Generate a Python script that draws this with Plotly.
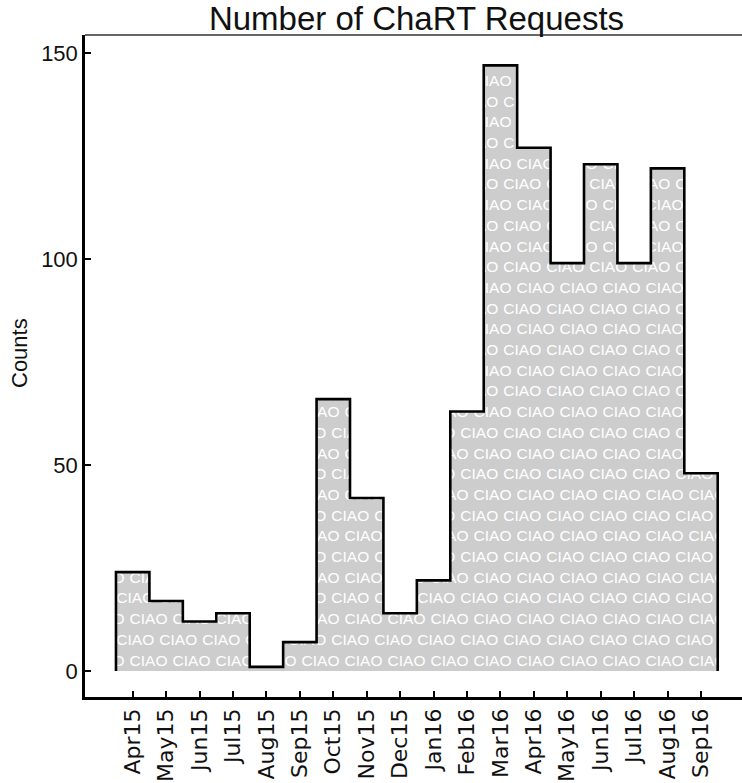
import numpy as np
import plotly.graph_objects as go

# Monthly request counts
months = ["Apr15", "May15", "Jun15", "Jul15", "Aug15", "Sep15", "Oct15", "Nov15", "Dec15",
          "Jan16", "Feb16", "Mar16", "Apr16", "May16", "Jun16", "Jul16", "Aug16", "Sep16"]
counts = [24, 17, 12, 14, 1, 7, 66, 42, 14, 22, 63, 147, 127, 99, 123, 99, 122, 48]
yticks = [0, 50, 100, 150]

idx = np.arange(len(months))
cnt = np.array(counts, dtype=float)

# Step outline built from bin edges (each month is a unit-wide bin)
step_x = [idx[0] - 0.5]
step_y = [0]
for i, c in zip(idx, counts):
    step_x += [i - 0.5, i + 0.5]
    step_y += [c, c]
step_x.append(idx[-1] + 0.5)
step_y.append(0)

# axis geometry (pixels per data unit and pixel origin of the first bin / zero count)
PX_X, X0_PX = 33.43, 132.7
PX_Y, Y0_PX = 4.12, 671.0
LEFT, TOP, BOTTOM = 85, 35, 697


def to_x(px):
    return (px - X0_PX) / PX_X


# "CIAO" texture: rows of white words, alternate rows shifted
ROW_GAP, WORD_GAP, HALF_W = 20.7, 43.0, 18.8
tex_x, tex_y = [], []
for k in range(32):
    yc = 2.26 + k * ROW_GAP / PX_Y
    first = 148.5 if k % 2 == 0 else 135.3
    for cx in np.arange(first - 2 * WORD_GAP, 742 + WORD_GAP, WORD_GAP):
        lo, hi = to_x(cx - HALF_W), to_x(cx + HALF_W)
        under = (idx + 0.5 > lo) & (idx - 0.5 < hi)
        if under.any() and cnt[under].max() > yc - 5.5 / PX_Y and cx - HALF_W > LEFT:
            tex_x.append(to_x(cx))
            tex_y.append(yc)

fig = go.Figure()

# grey histogram body
fig.add_trace(go.Scatter(
    x=step_x, y=step_y, mode="lines", line=dict(width=0),
    fill="tozeroy", fillcolor="#cdcdcd", hoverinfo="skip", showlegend=False))

fig.add_trace(go.Scatter(
    x=tex_x, y=tex_y, mode="text", text=["CIAO"] * len(tex_x),
    textposition="middle center",
    textfont=dict(family="Liberation Sans, Arial, sans-serif", size=15.5, color="white"),
    hoverinfo="skip", showlegend=False, cliponaxis=True))

# black step outline
fig.add_trace(go.Scatter(
    x=step_x, y=step_y, mode="lines", line=dict(color="black", width=2.6),
    hoverinfo="skip", showlegend=False))

fig.update_layout(
    width=742, height=783,
    margin=dict(l=LEFT, r=0, t=TOP, b=783 - BOTTOM),
    paper_bgcolor="white", plot_bgcolor="white",
    showlegend=False,
    title=dict(text="Number of ChaRT Requests", x=416.5 / 742, xanchor="center",
               xref="container", yref="container", y=1 - 7 / 783, yanchor="top",
               font=dict(family="Liberation Sans, Arial, sans-serif", size=33, color="#111")),
    xaxis=dict(range=[to_x(LEFT), to_x(742)],
               tickmode="array", tickvals=idx, ticktext=months, tickangle=-90,
               ticks="inside", ticklen=6, tickwidth=1.5, tickcolor="black",
               showline=True, linecolor="black", linewidth=2.5, mirror=False,
               showgrid=False, zeroline=False,
               tickfont=dict(family="DejaVu Sans, sans-serif", size=22, color="#111")),
    yaxis=dict(range=[(Y0_PX - BOTTOM) / PX_Y, (Y0_PX - TOP) / PX_Y],
               tickmode="array", tickvals=yticks,
               ticks="inside", ticklen=6, tickwidth=1.5, tickcolor="black",
               showline=True, linecolor="black", linewidth=2.5, mirror=False,
               showgrid=False, zeroline=False,
               tickfont=dict(family="Liberation Sans, Arial, sans-serif", size=22, color="#111")),
    shapes=[dict(type="line", xref="paper", yref="paper", x0=0, x1=1, y0=1, y1=1,
                 line=dict(color="#333", width=1.5))],
    annotations=[dict(text="Counts", xref="paper", yref="paper",
                      x=(19 - LEFT) / (742 - LEFT), y=(BOTTOM - 353) / (BOTTOM - TOP),
                      xanchor="center", yanchor="middle",
                      textangle=-90, showarrow=False,
                      font=dict(family="Liberation Sans Narrow, Liberation Sans, Arial, sans-serif",
                                size=22, color="#111"))],
)

fig.write_html("out.html")
